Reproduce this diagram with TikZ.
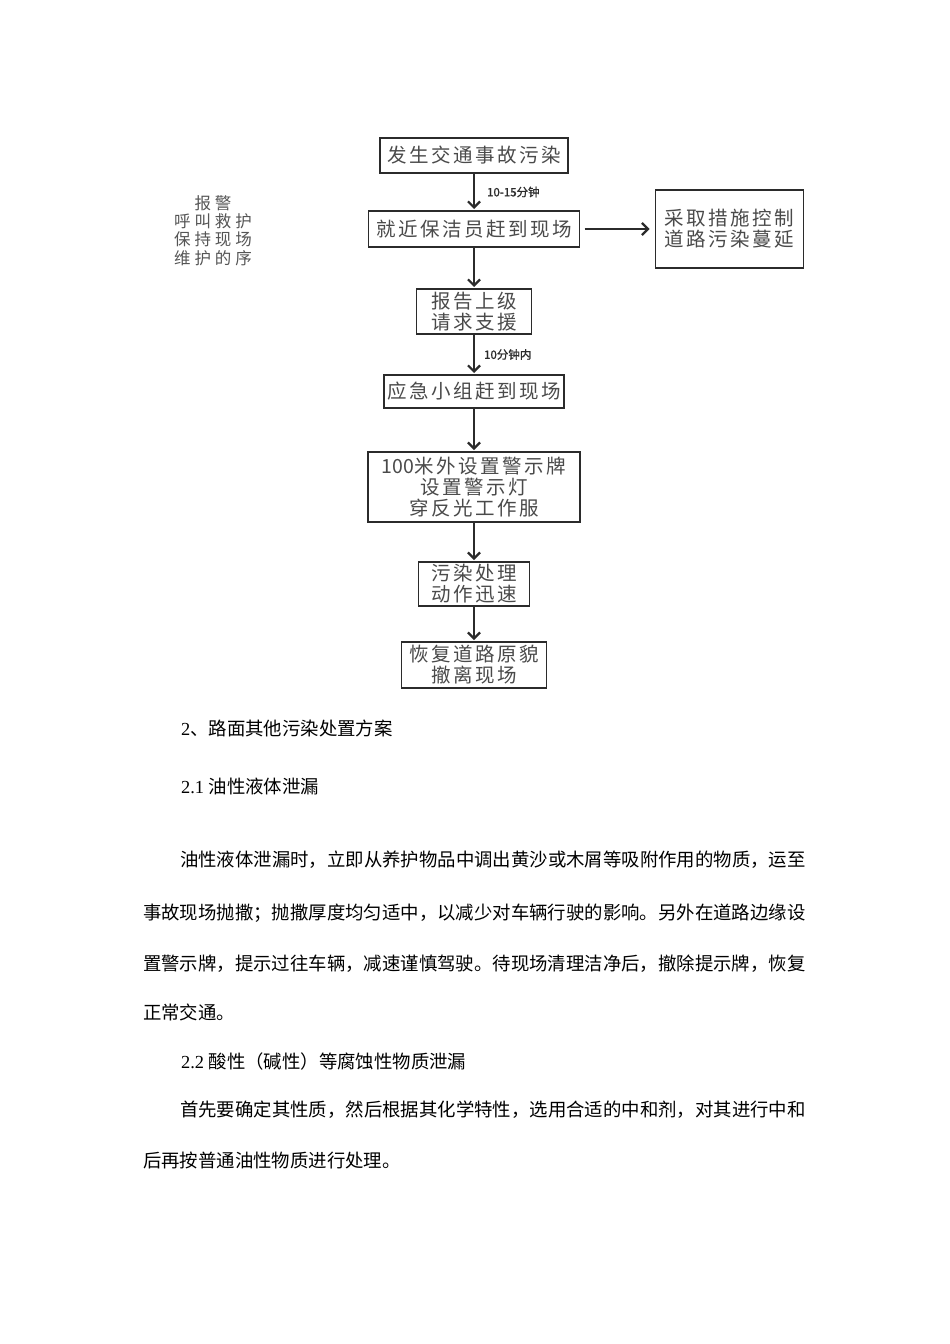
\documentclass[tikz,border=0pt]{standalone}
\usepackage{fontspec}
\setmainfont{Liberation Serif}
\newfontfamily\cjk{Noto Sans CJK SC}
\newfontfamily\boxcjk[LetterSpace=13]{Noto Sans CJK SC}
\newfontfamily\notecjk[LetterSpace=24]{Noto Sans CJK SC}
\newfontfamily\timecjk[FakeBold=1.2]{Noto Sans CJK SC}
\usepackage{tikz}
\usetikzlibrary{positioning}
\usetikzlibrary{arrows.meta}

\definecolor{boxgray}{HTML}{4A4A4A}
\definecolor{linegray}{HTML}{2B2B2B}
\definecolor{notegray}{HTML}{555555}

\begin{document}
\begin{tikzpicture}[
    x=1pt, y=-1pt,
    line width=2.2pt,
    color=linegray,
    >={Straight Barb[length=6pt,width=12pt]},
    node distance=40pt and 76pt
]
\tikzstyle{flowbox}=[rectangle, draw=linegray, line width=1.8pt, inner sep=0pt, outer sep=0pt, align=center, text=boxgray, font=\boxcjk\fontsize{19.5}{21}\selectfont]
\tikzstyle{timing}=[inner sep=0pt, text=linegray, font=\timecjk\fontsize{11.5}{13}\selectfont]
\tikzstyle{body}=[anchor=west, inner sep=0pt, text=black, font=\cjk\fontsize{18.4}{22}\selectfont]

\useasboundingbox[fill=white] (0,0) rectangle (950,1344);

% Flow chart
\node[flowbox, minimum width=188pt, minimum height=35pt] (occur) at (474,155.5) {发生交通事故污染};
\node[flowbox, minimum width=211pt, minimum height=36pt, below=38pt of occur] (cleaner) {就近保洁员赶到现场};
\node[flowbox, minimum width=148pt, minimum height=78pt, right=76pt of cleaner] (control) {采取措施控制\\道路污染蔓延};
\node[flowbox, minimum width=115pt, minimum height=45pt, below=42pt of cleaner] (report) {报告上级\\请求支援};
\node[flowbox, minimum width=180pt, minimum height=33pt, below=41pt of report] (team) {应急小组赶到现场};
\node[flowbox, minimum width=212pt, minimum height=70pt, below=44pt of team] (signs) {{\cjk 100}米外设置警示牌\\设置警示灯\\穿反光工作服};
\node[flowbox, minimum width=111pt, minimum height=44pt, below=40pt of signs] (treat) {污染处理\\动作迅速};
\node[flowbox, minimum width=145pt, minimum height=46pt, below=36pt of treat] (restore) {恢复道路原貌\\撤离现场};

% Side note
\node[align=center, inner sep=0pt, text=notegray, font=\notecjk\fontsize{16.5}{18.3}\selectfont] (alarm) at (213,230.5) {报警\\呼叫救护\\保持现场\\维护的序};

% Connections
\draw[->, shorten >=2pt] (occur.south) -- node[timing, right=12pt] {10-15分钟} (cleaner.north);
\draw[->, shorten >=2pt] (cleaner.south) -- (report.north);
\draw[->, shorten >=2pt] (report.south) -- node[timing, right=9pt] {10分钟内} (team.north);
\draw[->, shorten >=2pt] (team.south) -- (signs.north);
\draw[->, shorten >=2pt] (signs.south) -- (treat.north);
\draw[->, shorten >=2pt] (treat.south) -- (restore.north);
\draw[->, shorten <=5pt, shorten >=6pt] (cleaner) -- (control);

% Text below the chart
\node[body] (h2) at (180,728) {{\rmfamily 2}、路面其他污染处置方案};
\node[body] (h21) at (180,786) {{\rmfamily 2.1 }油性液体泄漏};
\node[body] (p1a) at (179,860) {油性液体泄漏时，立即从养护物品中调出黄沙或木屑等吸附作用的物质，运至};
\node[body] (p1b) at (142,913) {事故现场抛撒；抛撒厚度均匀适中，以减少对车辆行驶的影响。另外在道路边缘设};
\node[body] (p1c) at (142,964) {置警示牌，提示过往车辆，减速谨慎驾驶。待现场清理洁净后，撤除提示牌，恢复};
\node[body] (p1d) at (142,1012) {正常交通。};
\node[body] (h22) at (180,1061) {{\rmfamily 2.2 }酸性（碱性）等腐蚀性物质泄漏};
\node[body] (p2a) at (179,1110) {首先要确定其性质，然后根据其化学特性，选用合适的中和剂，对其进行中和};
\node[body] (p2b) at (142,1160) {后再按普通油性物质进行处理。};

\end{tikzpicture}
\end{document}
